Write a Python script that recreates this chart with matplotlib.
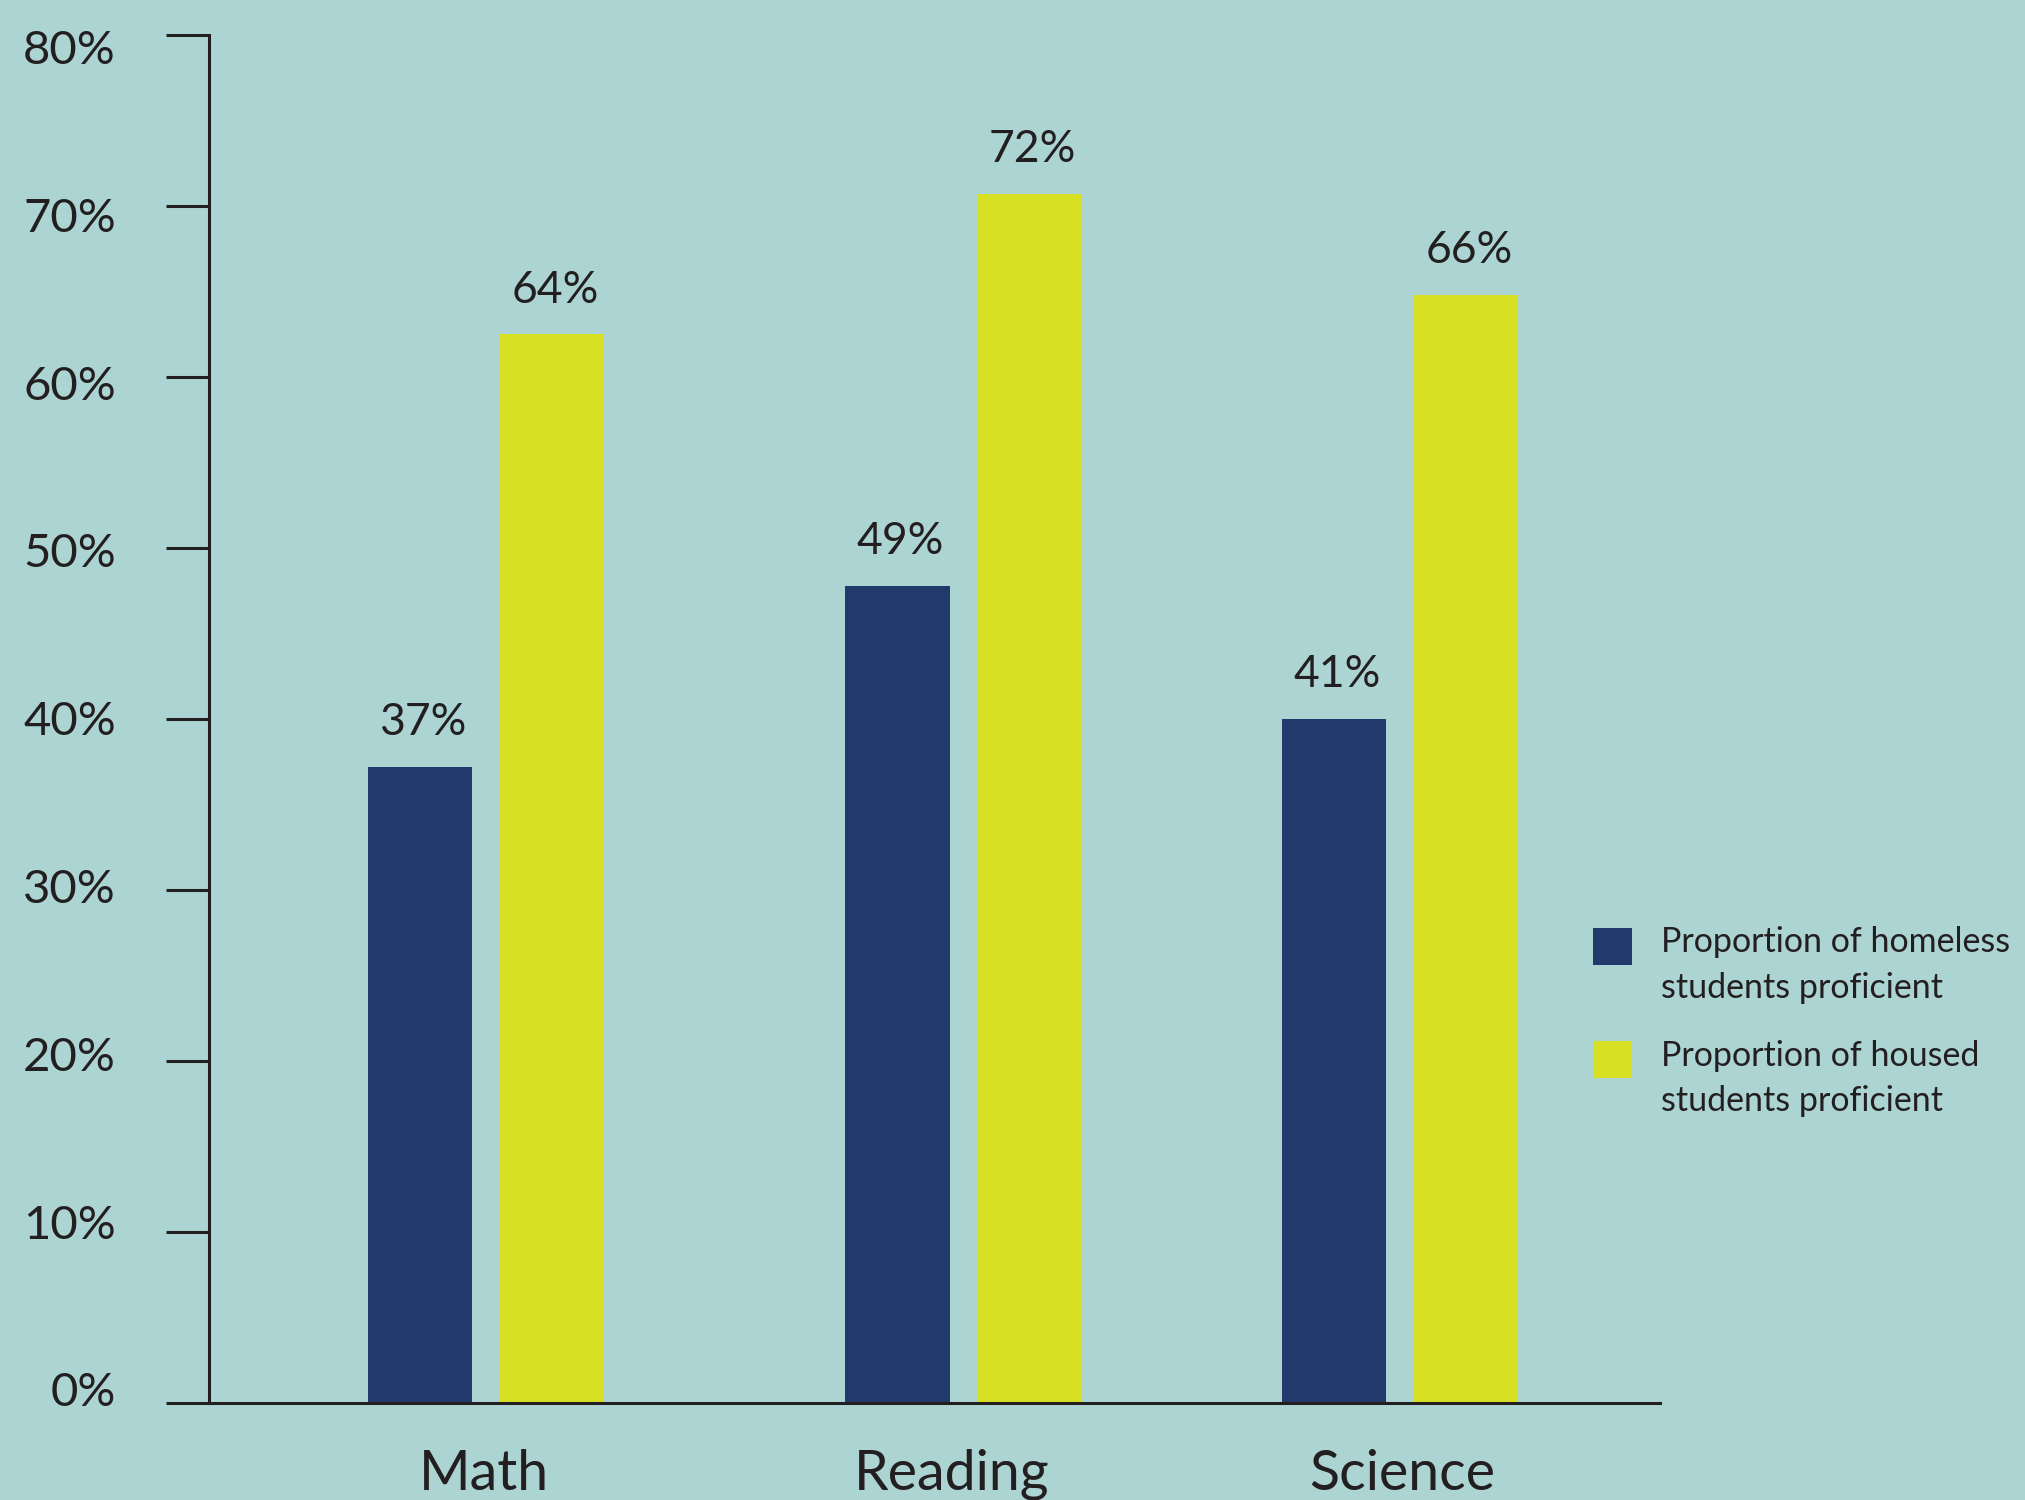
import matplotlib
matplotlib.use("Agg")
import matplotlib.pyplot as plt
from matplotlib.transforms import ScaledTranslation
from matplotlib.patches import Rectangle, Patch
from matplotlib.legend_handler import HandlerPatch

plt.rcParams['font.family'] = ['Lato', 'DejaVu Sans']

categories = ["Math", "Reading", "Science"]
homeless_bars = [37.2, 47.8, 40.0]
housed_bars = [62.5, 70.7, 64.8]
homeless_labels = ["37%", "49%", "41%"]
housed_labels = ["64%", "72%", "66%"]
series_names = ["Proportion of homeless\nstudents proficient",
                "Proportion of housed\nstudents proficient"]
y_ticks = [0, 10, 20, 30, 40, 50, 60, 70, 80]
y_tick_labels = ["0%", "10%", "20%", "30%", "40%", "50%", "60%", "70%", "80%"]

BG = "#acd4d2"
NAVY = "#213a6b"
YELLOW = "#d7df22"
INK = "#231f20"
DPI = 100

fig = plt.figure(figsize=(20.25, 15), dpi=DPI, facecolor=BG)
ax = fig.add_axes([209/2025, 1 - 1403/1500, (1660-209)/2025, (1403-35)/1500])
ax.set_facecolor(BG)

group_pos = [0.191, 0.520, 0.821]
width = 0.0717
off = 0.0455
xh = [p - off for p in group_pos]
xo = [p + off for p in group_pos]
b1 = ax.bar(xh, homeless_bars, width, color=NAVY, label=series_names[0])
b2 = ax.bar(xo, housed_bars, width, color=YELLOW, label=series_names[1])

for rects, labels in ((b1, homeless_labels), (b2, housed_labels)):
    for r, t in zip(rects, labels):
        ax.annotate(t, (r.get_x() + r.get_width()/2 + 0.002, r.get_height()),
                    xytext=(0, 17), textcoords="offset points",
                    ha="center", va="bottom", fontsize=32, color=INK)

ax.set_xlim(0, 1)
ax.set_ylim(0, 80)
ax.set_xticks(group_pos)
ax.set_xticklabels(categories, fontsize=40, color=INK)
ax.tick_params(axis="x", length=0, pad=33)
x_shift_px = [-2, -12, 2]
for lab, dx in zip(ax.get_xticklabels(), x_shift_px):
    lab.set_transform(lab.get_transform() + ScaledTranslation(dx/DPI, 0, fig.dpi_scale_trans))

ax.set_yticks(y_ticks)
ax.set_yticklabels(y_tick_labels, fontsize=34, color=INK)
ax.tick_params(axis="y", length=31, width=2.2, color=INK, pad=36, direction="out")
for lab, v in zip(ax.get_yticklabels(), y_ticks):
    down_px = (-11 + 0.25*v) * 1.2915 + 0.5
    lab.set_transform(lab.get_transform() + ScaledTranslation(0, -down_px/DPI, fig.dpi_scale_trans))

for s in ("top", "right"):
    ax.spines[s].set_visible(False)
for s in ("left", "bottom"):
    ax.spines[s].set_linewidth(2.2)
    ax.spines[s].set_color(INK)

LEG_FS = 24.5
LINE_SP = 1.52
line_step_pt = 45 * 72 / DPI


def top_square(legend, orig_handle, xdescent, ydescent, width, height, fontsize):
    return Rectangle((-xdescent, -ydescent + line_step_pt - 18), width, height)


handler = HandlerPatch(patch_func=top_square)
h1 = Patch(facecolor=NAVY, edgecolor="none")
h2 = Patch(facecolor=YELLOW, edgecolor="none")
leg = fig.legend(handles=[h1, h2], labels=series_names,
                 loc="upper left", bbox_to_anchor=(1593/2025, 1 - 926/1500),
                 frameon=False, fontsize=LEG_FS, handlelength=1.15, handleheight=1.3,
                 handletextpad=0.85, labelspacing=1.06, borderaxespad=0, borderpad=0,
                 handler_map={Patch: handler})
for t in leg.get_texts():
    t.set_color(INK)
    t.set_linespacing(LINE_SP)

fig.savefig("out.png", dpi=DPI, facecolor=BG)
